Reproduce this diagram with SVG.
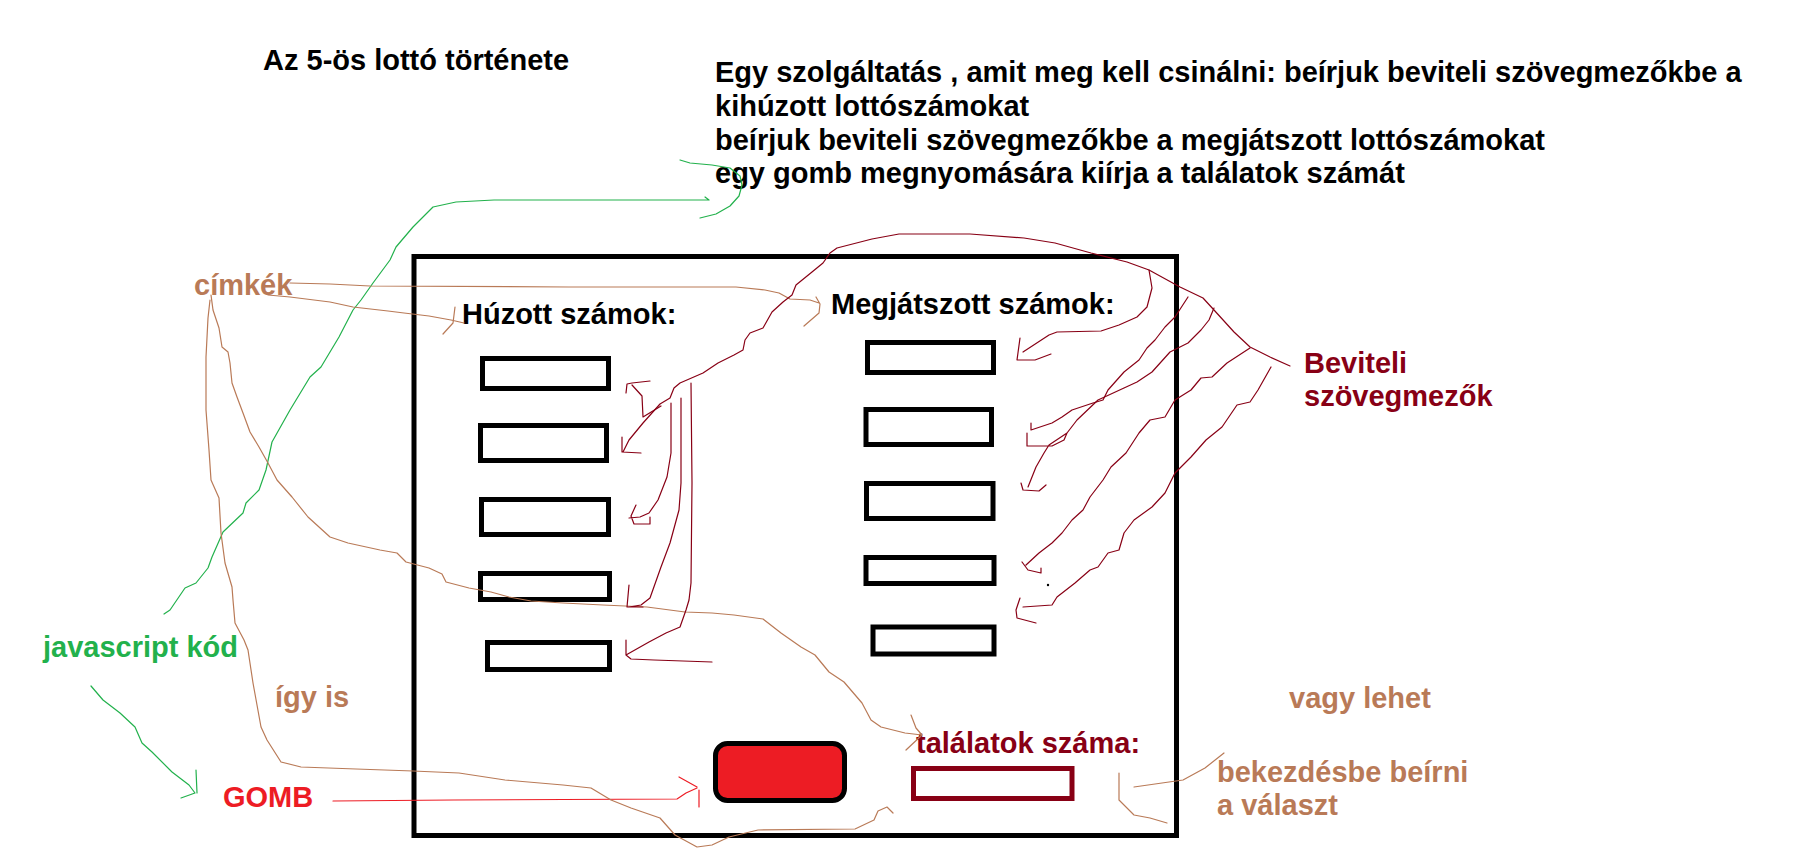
<svg xmlns="http://www.w3.org/2000/svg" width="1809" height="859" viewBox="0 0 1809 859">
<style>
text{font-family:"Liberation Sans",Arial,sans-serif;font-weight:bold;font-size:29px}
.k{fill:#000}.br{fill:#B97A57}.gr{fill:#22B14C}.rd{fill:#ED1C24}.dr{fill:#880015}
.box{fill:#fff;stroke:#000;stroke-width:5}
.ln{fill:none;stroke-width:1.2;stroke-linejoin:round;stroke-linecap:round}
.g{stroke:#22B14C}.b{stroke:#B97A57}.r{stroke:#ED1C24}.d{stroke:#880015}
</style>
<rect width="1809" height="859" fill="#fff"/>
<g id="frame"><rect x="414" y="256.5" width="762.5" height="579" fill="none" stroke="#000" stroke-width="5"/></g>
<g id="title"><text class="k" x="263" y="70">Az 5-ös lottó története</text></g>
<g id="description">
<text class="k" x="715" y="82">Egy szolgáltatás , amit meg kell csinálni: beírjuk beviteli szövegmezőkbe a</text>
<text class="k" x="715" y="116">kihúzott lottószámokat</text>
<text class="k" x="715" y="149.5">beírjuk beviteli szövegmezőkbe a megjátszott lottószámokat</text>
<text class="k" x="715" y="183">egy gomb megnyomására kiírja a találatok számát</text>
</g>
<g id="huzott-label"><text class="k" x="462" y="324">Húzott számok:</text></g>
<g id="megjatszott-label"><text class="k" x="831" y="314">Megjátszott számok:</text></g>
<g id="huzott-inputs">
<rect class="box" x="482.5" y="358.5" width="126" height="30"/>
<rect class="box" x="480.5" y="425.5" width="126" height="35"/>
<rect class="box" x="481.5" y="499.5" width="127" height="35"/>
<rect class="box" x="480.5" y="573.5" width="129" height="26"/>
<rect class="box" x="487.5" y="642.5" width="122" height="27"/>
</g>
<g id="megjatszott-inputs">
<rect class="box" x="867.5" y="342.5" width="126" height="30"/>
<rect class="box" x="866" y="409.5" width="125.5" height="35"/>
<rect class="box" x="866.5" y="483.5" width="126.5" height="35"/>
<rect class="box" x="866" y="557.5" width="128" height="26"/>
<rect class="box" x="873" y="627" width="121" height="27"/>
</g>
<g id="gomb-button"><rect x="715.5" y="743.5" width="129" height="57" rx="12" fill="#ED1C24" stroke="#000" stroke-width="5"/></g>
<g id="talalatok"><text class="dr" x="916" y="753">találatok száma:</text>
<rect x="913.5" y="768.5" width="158.5" height="30" fill="#fff" stroke="#880015" stroke-width="5"/></g>
<g id="cimkek"><text class="br" x="194" y="295">címkék</text></g>
<g id="beviteli"><text class="dr" x="1304" y="373">Beviteli</text><text class="dr" x="1304" y="406">szövegmezők</text></g>
<g id="javascript"><text class="gr" x="43" y="657">javascript kód</text></g>
<g id="igy-is"><text class="br" x="275" y="707">így is</text></g>
<g id="gomb-label"><text class="rd" x="223" y="807">GOMB</text></g>
<g id="vagy-lehet"><text class="br" x="1289" y="708">vagy lehet</text></g>
<g id="bekezdes"><text class="br" x="1217" y="782">bekezdésbe beírni</text><text class="br" x="1217" y="815">a választ</text></g>
<g id="connectors">
<path class="ln g" d="M164,614 L170,610 L185,588 L196,583 L208,568 L212,557 L223,532 L243,513 L246,503 L259,490 L266,470 L272,442 L290,410 L310,377 L321,367 L339,337 L353,310 L361,300 L373,283 L390,260 L396,247 L413,227 L433,207 L456,202 L494,200 L709,200 M705,197 L709,200"/>
<path class="ln g" d="M680,160 L690,163 L712,165 L730,168 L740,176 L742,185 L739,196 L730,206 L716,214 L700,218"/>
<path class="ln g" d="M91,686 L103,700 L120,713 L135,727 L142,743 L152,752 L172,772 L189,785 L195,793 L181,798 M196,770 L197,793"/>
<path class="ln r" d="M333,801 L453,800 L677,799 L686,793 L697,788 M679,777 L697,787 M699,790 L699,807"/>
<path class="ln b" d="M290,283 L330,284 L370,286 L569,287 L600,287 L736,287 L765,290 L779,293 L790,299 L810,300 L819,303 M816,297 L820,304 L819,313 L804,326"/>
<path class="ln b" d="M268,295 L290,297 L330,302 L353,307 L388,311 L404,313 L429,316 L451,320 L464,323 M455,307 L453,323 L443,334"/>
<path class="ln b" d="M211,295 L213,310 L219,328 L222,347 L228,352 L230,363 L232,383 L237,397 L243,413 L250,432 L259,447 L268,463 L277,480 L292,497 L308,517 L330,537 L348,543 L380,550 L397,553 L406,562 L429,568 L442,574 L446,582 L469,588 L491,592 L509,597 L531,601 L563,603 L603,605 L647,607 L685,612 L712,613 L734,615 L763,619 L781,633 L801,647 L815,655 L829,672 L844,682 L862,703 L871,720 L881,727 L905,733 L922,735 M911,715 L916,728 L922,735 L906,750"/>
<path class="ln b" d="M210,300 L208,318 L206,357 L206,410 L209,450 L211,480 L219,498 L221,533 L225,563 L232,587 L233,600 L235,623 L244,640 L248,650 L253,683 L261,727 L267,740 L281,762 L301,767 L356,769 L413,771 L459,773 L505,780 L563,785 L591,788 L611,800 L631,808 L660,818 L675,835 L697,847 L712,845 L729,837 L758,830 L855,829 L874,820 L878,811 L887,807 L893,813"/>
<path class="ln b" d="M1224,753 L1205,768 L1183,780 L1162,783 L1134,787"/>
<path class="ln b" d="M1119,773 L1119,800 L1134,815 L1150,818 L1167,823"/>
<path class="ln d" d="M1290,366 L1270,357 L1250,347 L1234,332 L1214,310 L1203,298 L1180,287 L1149,270 L1127,262 L1091,253 L1055,243 L1024,238 L970,234 L899,234 L872,239 L837,248 L830,253 L823,263 L812,272 L796,285 L792,295 L783,302 L772,312 L763,328 L750,333 L745,340 L743,350 L734,355 L718,363 L703,373 L680,383 L674,388 L670,398 L660,404 L643,423 L629,440 L623,452 M622,437 L622,452 L641,453"/>
<path class="ln d" d="M626,393 L627,384 L632,383 L650,381 M632,385 L642,396 L643,417 L661,406"/>
<path class="ln d" d="M671,403 L671,453 L667,477 L658,500 L649,513 L640,517 L629,518 M636,505 L631,516 L634,524 L650,524 L650,517"/>
<path class="ln d" d="M681,398 L681,483 L679,510 L670,543 L661,567 L650,598 L641,605 L629,607 M629,585 L627,607 L643,607"/>
<path class="ln d" d="M691,383 L692,483 L691,583 L689,600 L686,610 L680,627 L666,633 L649,642 L626,655 M626,640 L626,655 L631,659 L654,660 L712,662"/>
<path class="ln d" d="M1149,270 L1152,288 L1147,307 L1137,317 L1119,325 L1101,331 L1057,332 L1049,335 L1023,352 M1020,338 L1017,360 L1035,360 L1051,354"/>
<path class="ln d" d="M1188,297 L1175,317 L1165,327 L1155,340 L1147,348 L1139,360 L1124,372 L1108,390 L1103,400 L1093,403 L1072,410 L1062,417 L1052,423 L1031,430 M1031,423 L1031,430"/>
<path class="ln d" d="M1214,308 L1209,320 L1201,330 L1188,343 L1170,352 L1152,372 L1137,382 L1124,388 L1098,400 L1077,420 L1067,433 L1064,440 L1052,446 L1027,446 L1027,433 M1067,433 L1049,445 L1044,453 L1036,467 L1028,487 M1021,483 L1023,490 L1039,491 L1046,485"/>
<path class="ln d" d="M1250,348 L1227,363 L1212,377 L1201,378 L1191,390 L1175,400 L1165,417 L1150,420 L1139,433 L1126,453 L1111,467 L1103,480 L1090,497 L1083,510 L1072,520 L1062,533 L1052,543 L1039,553 L1026,565 M1022,562 L1028,570 L1041,573 L1041,568"/>
<path class="ln d" d="M1271,367 L1258,390 L1250,402 L1237,405 L1222,427 L1206,440 L1191,457 L1175,473 L1165,493 L1152,507 L1134,520 L1124,533 L1119,550 L1108,553 L1098,567 L1090,570 L1075,583 L1057,597 L1052,605 L1023,607 M1020,598 L1016,610 L1017,618 L1036,623"/>
<circle cx="1048" cy="585" r="1.2" fill="#000"/>
</g>
</svg>
